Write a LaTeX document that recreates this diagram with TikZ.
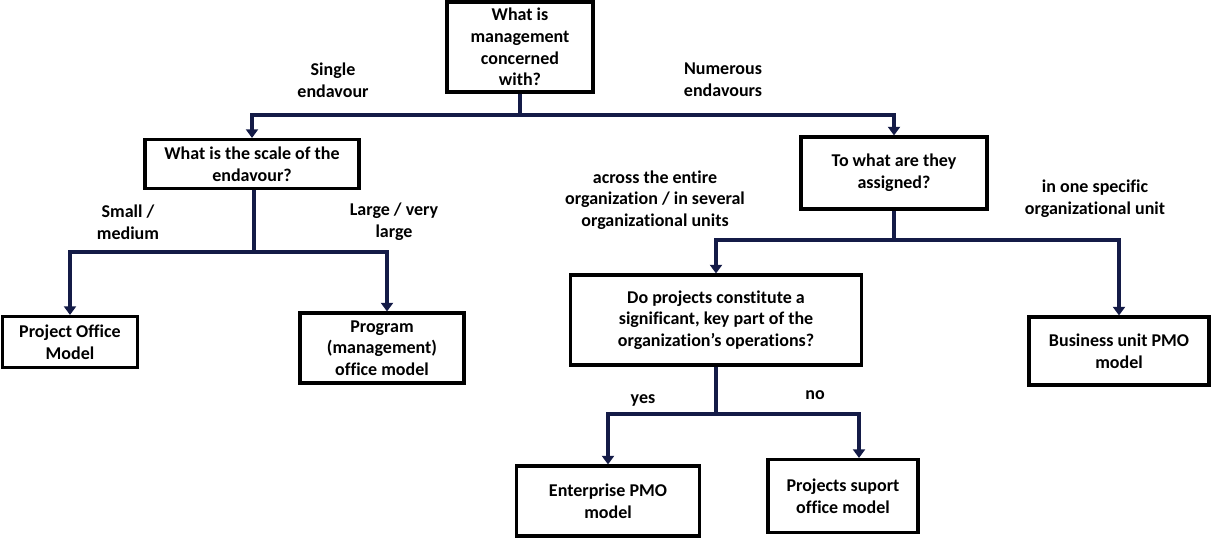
\documentclass[tikz,border=0pt]{standalone}
\usepackage{fontspec}
\setmainfont{Carlito}[Ligatures=NoCommon]
\usetikzlibrary{arrows.meta,positioning}
\definecolor{wireC}{HTML}{141B47}
\tikzset{
  qbox/.style={draw=black, line width=2.3pt, fill=white, align=center, inner sep=2pt,
    font=\fontsize{13.5}{16.2}\selectfont\bfseries},
  tag/.style={align=center, font=\fontsize{13.5}{16.2}\selectfont\bfseries},
  wire/.style={draw=wireC, line width=3pt, -{Triangle[width=9pt,length=6.5pt]}},
  stem/.style={draw=wireC, line width=3pt},
}
\begin{document}
\begin{tikzpicture}[x=0.75pt, y=-0.75pt]
  \useasboundingbox (0,0) rectangle (1212,538);

  % Questions
  \node[qbox, minimum width=109.5pt, minimum height=67.5pt] (top) at (520,47)
    {What is\\management\\concerned\\with?};
  \node[qbox, minimum width=160.5pt, minimum height=36.75pt] (scale) at (252,164)
    {What is the scale of the\\endavour?};
  \node[qbox, minimum width=139.5pt, minimum height=54pt] (assigned) at (894,173)
    {To what are they\\assigned?};
  \node[qbox, minimum width=218.25pt, minimum height=67.5pt] (doproj) at (716,320)
    {Do projects constitute a\\significant, key part of the\\organization's operations?};

  % Models
  \node[qbox, minimum width=101.25pt, minimum height=38.25pt] (office) at (70,342)
    {Project Office\\Model};
  \node[qbox, minimum width=123pt, minimum height=52.5pt] (program) at (382,348)
    {Program\\(management)\\office model};
  \node[qbox, minimum width=135pt, minimum height=51pt] (business) at (1119,351)
    {Business unit PMO\\model};
  \node[qbox, minimum width=137.25pt, minimum height=52.5pt] (enterprise) at (608,501)
    {Enterprise PMO\\model};
  \node[qbox, minimum width=112.5pt, minimum height=54.75pt] (support) at (843,496)
    {Projects suport\\office model};

  % Branch labels
  \node[tag] (single) at (333,80) {Single\\endavour};
  \node[tag] (numerous) at (723,80) {Numerous\\endavours};
  \node[tag] (small) at (128,222) {Small /\\medium};
  \node[tag] (large) at (394,222) {Large / very\\large};
  \node[tag] (across) at (655,200) {across the entire\\organization / in several\\organizational units};
  \node[tag] (inone) at (1095,199) {in one specific\\organizational unit};
  \node[tag] (yes) at (643,400) {yes};
  \node[tag] (no) at (815,395) {no};

  % Junctions
  \coordinate (jTop) at (520,115);
  \coordinate (jScale) at (254,252);
  \coordinate (jAssigned) at (894,240);
  \coordinate (jDoproj) at (716,414);

  % Connectors
  \draw[stem] (top.south) -- (jTop);
  \draw[wire] (jTop) -| (scale.north);
  \draw[wire] (jTop) -| (assigned.north);

  \draw[stem] (scale.south -| jScale) -- (jScale);
  \draw[wire] (jScale) -| (office.north);
  \draw[wire] (jScale) -| ([xshift=3.75pt]program.north);

  \draw[stem] (assigned.south) -- (jAssigned);
  \draw[wire] (jAssigned) -| (doproj.north);
  \draw[wire] (jAssigned) -| (business.north);

  \draw[stem] (doproj.south) -- (jDoproj);
  \draw[wire] (jDoproj) -| (enterprise.north);
  \draw[wire] (jDoproj) -| ([xshift=12pt]support.north);
\end{tikzpicture}
\end{document}
